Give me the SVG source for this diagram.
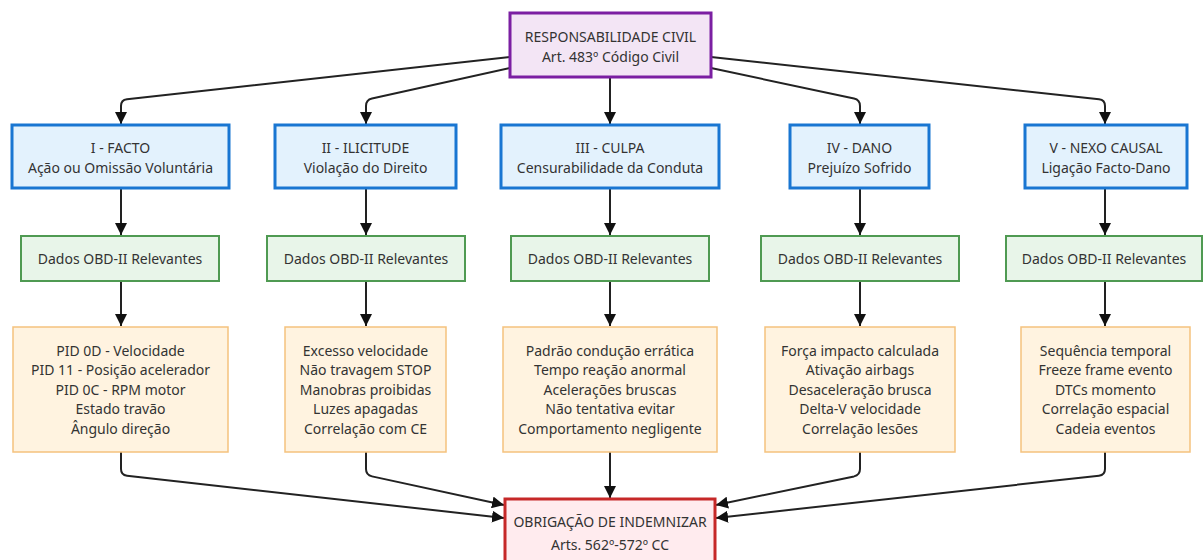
<svg xmlns="http://www.w3.org/2000/svg" width="1203" height="560" viewBox="0 0 1203 560">
  <style>
    text { font-family: "Noto Sans", "Open Sans", sans-serif; font-size: 14px; fill: #333; text-anchor: middle; dominant-baseline: central; }
    .root rect { fill: #f3e5f5; stroke: #7b1fa2; stroke-width: 3; }
    .elem rect { fill: #e3f2fd; stroke: #1976d2; stroke-width: 3; }
    .obd rect { fill: #e8f5e9; stroke: #4f9a52; stroke-width: 2; }
    .data rect { fill: #fff3e0; stroke: #f5c27e; stroke-width: 1.5; }
    .result rect { fill: #ffebee; stroke: #c62828; stroke-width: 3; }
    .edges path { fill: none; stroke: #222; stroke-width: 2; marker-end: url(#arrow); }
  </style>
  <defs>
    <marker id="arrow" markerUnits="userSpaceOnUse" markerWidth="12" markerHeight="12" viewBox="0 0 10 10" refX="10" refY="5" orient="auto">
      <path d="M0,0 L10,5 L0,10 z" fill="#111"/>
    </marker>
  </defs>
  <rect width="1203" height="560" fill="#ffffff"/>

  <!-- connectors -->
  <g class="edges">
    <path d="M510,57 L127,99.3 Q121,100 121,106 L121,124"/>
    <path d="M510,68 L372,98.6 Q366,100 366,106 L366,124"/>
    <path d="M610,77 L610,124"/>
    <path d="M711,68 L854,98.6 Q860,100 860,106 L860,124"/>
    <path d="M711,57 L1099,99.3 Q1105,100 1105,106 L1105,124"/>

    <path d="M121,188 L121,235"/>
    <path d="M366,188 L366,235"/>
    <path d="M610,188 L610,235"/>
    <path d="M860,188 L860,235"/>
    <path d="M1105,188 L1105,235"/>

    <path d="M121,281 L121,326"/>
    <path d="M366,281 L366,326"/>
    <path d="M610,281 L610,326"/>
    <path d="M860,281 L860,326"/>
    <path d="M1105,281 L1105,326"/>

    <path d="M121,452 L121,469 Q121,475 127,475.7 L504,518"/>
    <path d="M366,452 L366,469 Q366,475 372,476.4 L504,505"/>
    <path d="M610,452 L610,498"/>
    <path d="M860,452 L860,469 Q860,475 854,476.4 L716,505"/>
    <path d="M1105,452 L1105,469 Q1105,475 1099,475.7 L716,518"/>
  </g>

  <!-- top node -->
  <g id="responsabilidade" class="root">
    <rect x="510" y="13" width="201" height="64"/>
    <text x="610.5" y="36">RESPONSABILIDADE CIVIL</text>
    <text x="610.5" y="56">Art. 483º Código Civil</text>
  </g>

  <!-- elements -->
  <g id="facto" class="elem">
    <rect x="12" y="125" width="217" height="63"/>
    <text x="120.5" y="147">I - FACTO</text>
    <text x="120.5" y="167">Ação ou Omissão Voluntária</text>
  </g>
  <g id="ilicitude" class="elem">
    <rect x="275" y="125" width="181" height="63"/>
    <text x="365.5" y="147">II - ILICITUDE</text>
    <text x="365.5" y="167">Violação do Direito</text>
  </g>
  <g id="culpa" class="elem">
    <rect x="501" y="125" width="218" height="63"/>
    <text x="610" y="147">III - CULPA</text>
    <text x="610" y="167">Censurabilidade da Conduta</text>
  </g>
  <g id="dano" class="elem">
    <rect x="790" y="125" width="139" height="63"/>
    <text x="859.5" y="147">IV - DANO</text>
    <text x="859.5" y="167">Prejuízo Sofrido</text>
  </g>
  <g id="nexo" class="elem">
    <rect x="1025" y="125" width="162" height="63"/>
    <text x="1106" y="147">V - NEXO CAUSAL</text>
    <text x="1106" y="167">Ligação Facto-Dano</text>
  </g>

  <!-- OBD-II data headers -->
  <g id="obd1" class="obd">
    <rect x="21" y="236" width="198" height="45"/>
    <text x="120" y="258">Dados OBD-II Relevantes</text>
  </g>
  <g id="obd2" class="obd">
    <rect x="267" y="236" width="198" height="45"/>
    <text x="366" y="258">Dados OBD-II Relevantes</text>
  </g>
  <g id="obd3" class="obd">
    <rect x="511" y="236" width="198" height="45"/>
    <text x="610" y="258">Dados OBD-II Relevantes</text>
  </g>
  <g id="obd4" class="obd">
    <rect x="761" y="236" width="198" height="45"/>
    <text x="860" y="258">Dados OBD-II Relevantes</text>
  </g>
  <g id="obd5" class="obd">
    <rect x="1006" y="236" width="196" height="45"/>
    <text x="1104" y="258">Dados OBD-II Relevantes</text>
  </g>

  <!-- OBD-II detail lists -->
  <g id="dados1" class="data">
    <rect x="13" y="327" width="215" height="125"/>
    <text x="120.5" y="350">PID 0D - Velocidade</text>
    <text x="120.5" y="369.6">PID 11 - Posição acelerador</text>
    <text x="120.5" y="389.2">PID 0C - RPM motor</text>
    <text x="120.5" y="408.8">Estado travão</text>
    <text x="120.5" y="428.4">Ângulo direção</text>
  </g>
  <g id="dados2" class="data">
    <rect x="285" y="327" width="161" height="125"/>
    <text x="365.5" y="350">Excesso velocidade</text>
    <text x="365.5" y="369.6">Não travagem STOP</text>
    <text x="365.5" y="389.2">Manobras proibidas</text>
    <text x="365.5" y="408.8">Luzes apagadas</text>
    <text x="365.5" y="428.4">Correlação com CE</text>
  </g>
  <g id="dados3" class="data">
    <rect x="503" y="327" width="214" height="125"/>
    <text x="610" y="350">Padrão condução errática</text>
    <text x="610" y="369.6">Tempo reação anormal</text>
    <text x="610" y="389.2">Acelerações bruscas</text>
    <text x="610" y="408.8">Não tentativa evitar</text>
    <text x="610" y="428.4">Comportamento negligente</text>
  </g>
  <g id="dados4" class="data">
    <rect x="765" y="327" width="190" height="125"/>
    <text x="860" y="350">Força impacto calculada</text>
    <text x="860" y="369.6">Ativação airbags</text>
    <text x="860" y="389.2">Desaceleração brusca</text>
    <text x="860" y="408.8">Delta-V velocidade</text>
    <text x="860" y="428.4">Correlação lesões</text>
  </g>
  <g id="dados5" class="data">
    <rect x="1021" y="327" width="169" height="125"/>
    <text x="1105.5" y="350">Sequência temporal</text>
    <text x="1105.5" y="369.6">Freeze frame evento</text>
    <text x="1105.5" y="389.2">DTCs momento</text>
    <text x="1105.5" y="408.8">Correlação espacial</text>
    <text x="1105.5" y="428.4">Cadeia eventos</text>
  </g>

  <!-- result node -->
  <g id="obrigacao" class="result">
    <rect x="505" y="499" width="210" height="64"/>
    <text x="610" y="521">OBRIGAÇÃO DE INDEMNIZAR</text>
    <text x="610" y="544">Arts. 562º-572º CC</text>
  </g>
</svg>
